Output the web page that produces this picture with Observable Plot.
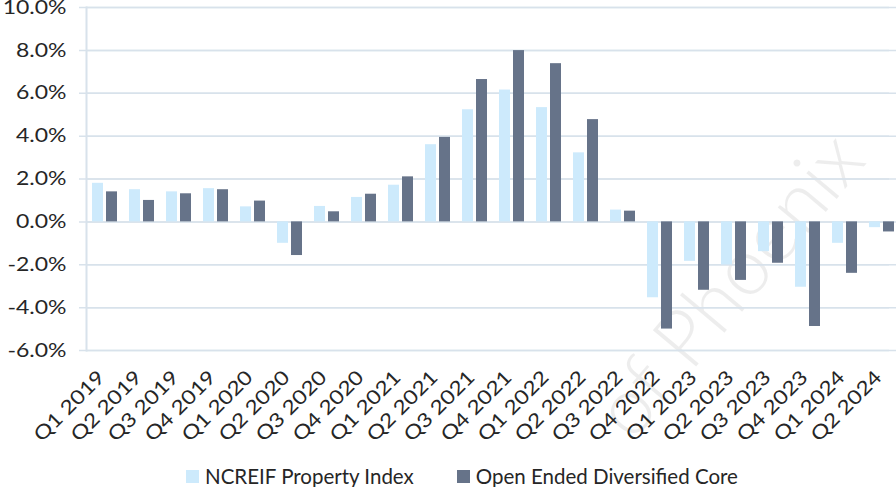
<!DOCTYPE html>
<html>
<head>
<meta charset="utf-8">
<script src="https://cdn.jsdelivr.net/npm/d3@7"></script>
<script src="https://cdn.jsdelivr.net/npm/@observablehq/plot@0.6"></script>
<style>
  html, body { margin: 0; padding: 0; background: #fff; overflow: hidden; }
  body { width: 896px; height: 487px; position: relative; font-family: Lato, "Open Sans", sans-serif; color: #262626; }
  #chart { position: relative; z-index: 1; }
  #legend { position: absolute; z-index: 1; left: 186px; top: 466px; height: 20px; line-height: 20px; display: flex; align-items: center; gap: 43px; font-size: 20.5px; color: #262626; white-space: nowrap; }
  #legend .item { display: flex; align-items: center; }
  #legend .sw { width: 13px; height: 13px; margin-right: 6px; }
  #wm { position: absolute; z-index: 0; left: 0; top: 0; pointer-events: none; }
</style>
</head>
<body>
<svg id="wm" width="896" height="487"></svg>
<div id="chart"></div>
<div id="legend"></div>
<script>
const quarters = ["Q1 2019","Q2 2019","Q3 2019","Q4 2019","Q1 2020","Q2 2020","Q3 2020","Q4 2020",
  "Q1 2021","Q2 2021","Q3 2021","Q4 2021","Q1 2022","Q2 2022","Q3 2022","Q4 2022",
  "Q1 2023","Q2 2023","Q3 2023","Q4 2023","Q1 2024","Q2 2024"];
const ncreif = [1.8, 1.5, 1.4, 1.55, 0.7, -1.0, 0.72, 1.14, 1.71, 3.6, 5.23, 6.15, 5.33, 3.22, 0.55, -3.54,
  -1.84, -2.01, -1.39, -3.05, -1.0, -0.27];
const odce = [1.4, 1.0, 1.31, 1.5, 0.97, -1.57, 0.47, 1.29, 2.1, 3.94, 6.64, 7.99, 7.38, 4.77, 0.5, -5.0,
  -3.19, -2.73, -1.93, -4.88, -2.4, -0.47];
const seriesNames = ["NCREIF Property Index", "Open Ended Diversified Core"];
const seriesColors = ["#cdeafc", "#667389"];
const yTicks = [-6, -4, -2, 0, 2, 4, 6, 8, 10];
const watermarkText = "of Phoenix";

const rows = quarters.map((q, i) => ({q, ncreif: ncreif[i], odce: odce[i]}));
const gridColor = "#d8e2eb";
const textColor = "#262626";
const stretch = 1.18;

const plot = Plot.plot({
  width: 896,
  height: 457,
  marginTop: 7,
  marginBottom: 107,
  marginLeft: 86,
  marginRight: 0,
  style: {fontFamily: "Lato, 'Open Sans', sans-serif", color: textColor, background: "transparent"},
  x: {type: "band", domain: quarters, range: [86, 900], padding: 0, axis: null},
  y: {domain: [-6, 10], range: [350, 7], axis: null},
  marks: [
    Plot.ruleY(yTicks, {stroke: gridColor, strokeWidth: 1.5}),
    Plot.ruleY(yTicks, {stroke: gridColor, strokeWidth: 1.5, dx: -7}),
    Plot.frame({anchor: "left", stroke: gridColor, strokeWidth: 2}),
    Plot.barY(rows, {x: "q", y: "ncreif", fill: seriesColors[0], insetLeft: 6, insetRight: 20}),
    Plot.barY(rows, {x: "q", y: "odce", fill: seriesColors[1], insetLeft: 20, insetRight: 6}),
    Plot.text(yTicks, {y: d => d, frameAnchor: "left", dx: -20, textAnchor: "end",
      text: d => d.toFixed(1) + "%", fontSize: 19.5, fill: textColor, className: "stretch"}),
    Plot.text(quarters, {x: d => d, y: () => -6, dx: 1, dy: 28, rotate: -45, textAnchor: "end",
      lineAnchor: "bottom", text: d => d, fontSize: 19.5, fill: textColor, className: "stretch"})
  ]
});
document.getElementById("chart").appendChild(plot);

// horizontally stretch axis labels to match the reference font's wider proportions
plot.querySelectorAll("g.stretch text").forEach(t => {
  const tr = t.getAttribute("transform") || "";
  t.setAttribute("transform", tr + ` scale(${stretch},1)`);
});

const legend = d3.select("#legend");
seriesNames.forEach((name, i) => {
  const item = legend.append("div").attr("class", "item");
  item.append("div").attr("class", "sw").style("background", seriesColors[i]);
  item.append("span").text(name);
});

d3.select("#wm").append("text").attr("transform", "translate(632,443) rotate(-50)")
  .attr("font-family", "Lato, sans-serif").attr("font-weight", 300).attr("font-size", 80)
  .attr("fill", "rgba(0,0,0,0.07)").text(watermarkText);
</script>
</body>
</html>
